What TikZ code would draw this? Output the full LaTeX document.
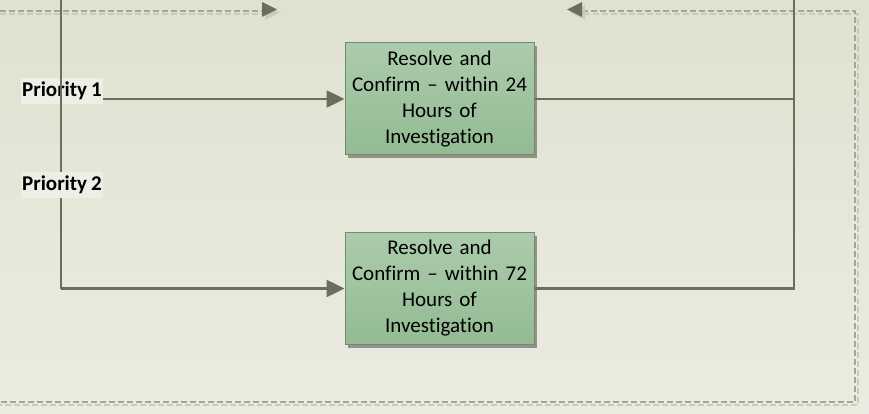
\documentclass[tikz,border=0pt]{standalone}
\usepackage{fontspec}
\setmainfont{Carlito}[RawFeature=-liga, WordSpace=0.85]
\usetikzlibrary{arrows.meta,shadows}
\definecolor{bgtop}{HTML}{E1E1D1}
\definecolor{bgbottom}{HTML}{EBEBE1}
\definecolor{labelfill}{HTML}{EEEEE6}
\definecolor{flowline}{HTML}{6B6E5A}
\definecolor{boxtop}{HTML}{ACCBAC}
\definecolor{boxbottom}{HTML}{93BB93}
\definecolor{boxedge}{HTML}{6F8C6F}
\definecolor{frameline}{HTML}{A6A698}
\definecolor{frameshade}{HTML}{CACABD}
\tikzset{
  resolvebox/.style = {
    draw=boxedge, line width=1pt, top color=boxtop, bottom color=boxbottom,
    minimum width=189pt, minimum height=112pt, text width=180pt,
    align=center, inner sep=0pt, font=\fontsize{21}{26}\selectfont,
    drop shadow={shadow xshift=3pt, shadow yshift=-3pt, fill=black!35!bgtop, opacity=1}
  },
  prioritylabel/.style = {
    fill=labelfill, inner xsep=1pt, inner ysep=0pt,
    minimum height=26pt, font=\fontsize{21}{26}\selectfont\bfseries
  },
  flow/.style = {draw=flowline, line width=2.5pt},
  flowarrow/.style = {flow, -{Triangle[length=18pt,width=17pt]}},
  framedash/.style = {line width=1.2pt, dash pattern=on 6pt off 3pt},
}
\begin{document}
\begin{tikzpicture}[x=1pt,y=-1pt]
  \useasboundingbox (0,0) rectangle (869,414);
  % background
  \fill[top color=bgtop, bottom color=bgbottom] (0,0) rectangle (869,414);
  % dashed frame
  \draw[framedash, frameshade] (0,14) -- (264,14);
  \draw[framedash, frameshade] (584,14) -- (858,14) -- (858,405) -- (0,405);
  \draw[framedash, frameline] (0,11) -- (264,11);
  \draw[framedash, frameline] (582,11) -- (855,11) -- (855,402) -- (0,402);
  \fill[frameshade] (265,5) -- (280,12.5) -- (265,20) -- cycle;
  \fill[flowline] (262,2) -- (277,9.5) -- (262,17) -- cycle;
  \fill[frameshade] (585,5) -- (570,12.5) -- (585,20) -- cycle;
  \fill[flowline] (582,2) -- (567,9.5) -- (582,17) -- cycle;
  % boxes
  \node[resolvebox] (box24) at (439.5,99) {Resolve and\\Confirm -- within 24\\Hours of\\Investigation};
  \node[resolvebox] (box72) at (439.5,288.5) {Resolve and\\Confirm -- within 72\\Hours of\\Investigation};
  % left branch
  \node[prioritylabel] (prio1) at (62,91) {Priority 1};
  \coordinate (lefttop) at (61,0);
  \coordinate (leftbottom) at (61,288.5);
  \draw[flow] (lefttop) -- (leftbottom);
  \node[prioritylabel] (prio2) at (62,185) {Priority 2};
  \draw[flowarrow] (prio1.east |- box24.west) -- (box24.west);
  \draw[flowarrow] (leftbottom) -- (box72.west);
  % right branch
  \coordinate (righttop) at (794,0);
  \coordinate (rightbottom) at (794,288.5);
  \draw[flow] (righttop) -- (rightbottom) -- (box72.east);
  \draw[flow] (box24.east) -- (box24.east -| righttop);
\end{tikzpicture}
\end{document}
